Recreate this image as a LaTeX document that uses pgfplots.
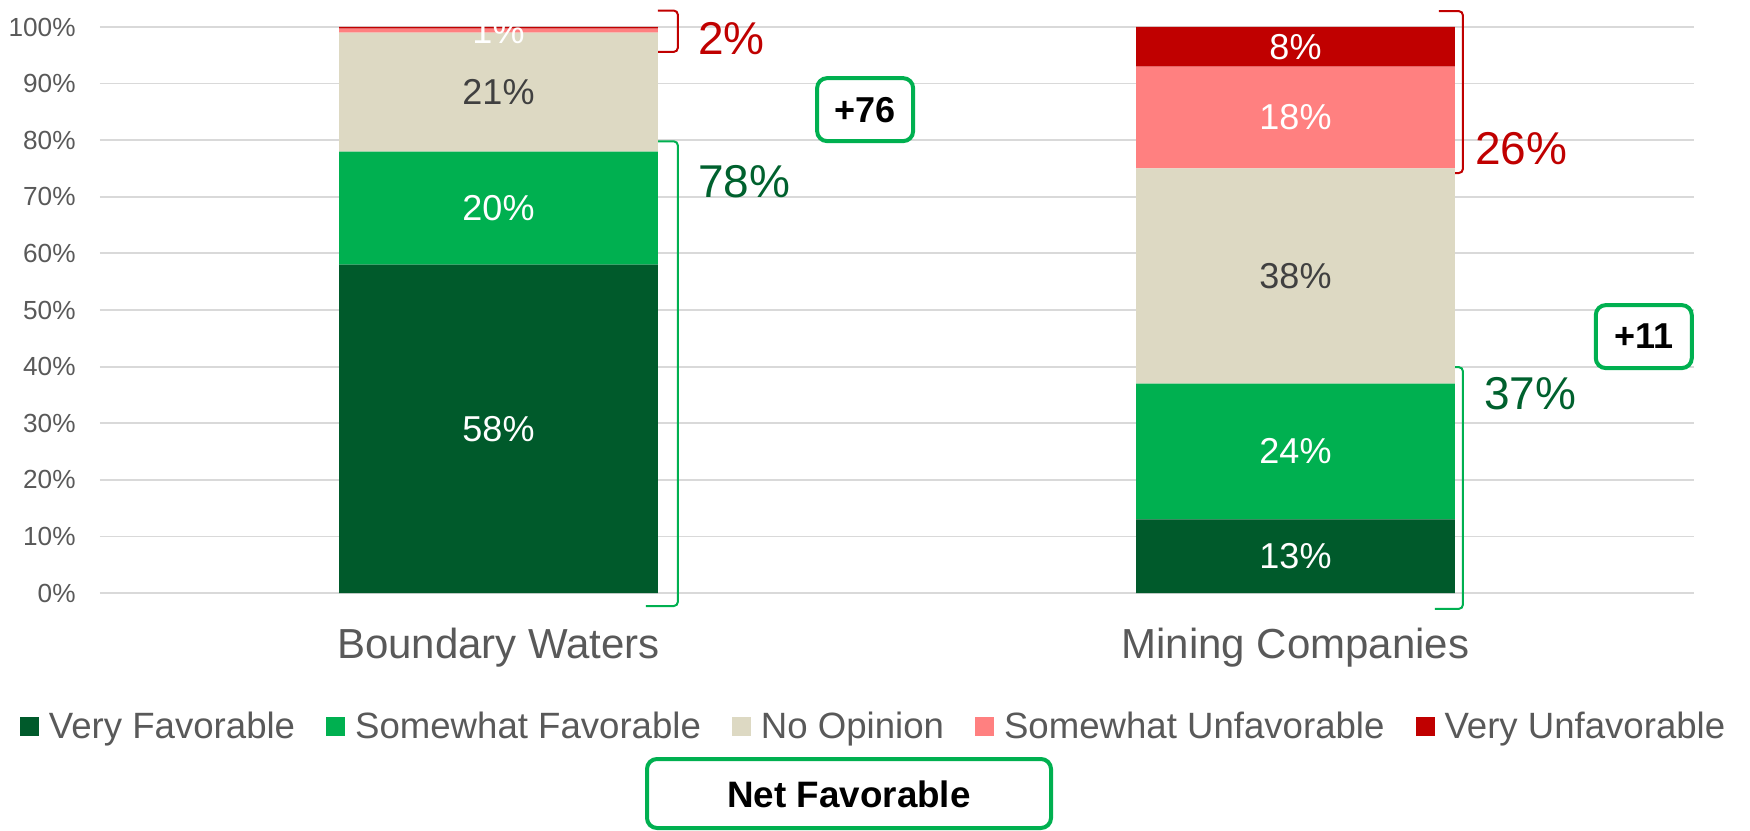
\documentclass[border=0pt]{standalone}
\usepackage{pgfplots}
\pgfplotsset{compat=1.18}
\usepackage{pgfplotstable}
\usepackage{fontspec}
\setmainfont{Liberation Sans}

\definecolor{vfc}{HTML}{005A2B}
\definecolor{sfc}{HTML}{00B050}
\definecolor{noc}{HTML}{DDD9C3}
\definecolor{suc}{HTML}{FF8080}
\definecolor{vuc}{HTML}{C00000}
\definecolor{tickc}{HTML}{595959}
\definecolor{darkc}{HTML}{404040}
\definecolor{gridc}{HTML}{D9D9D9}
\definecolor{bigg}{HTML}{00612E}

% shares per group; label columns hold the printed (rounded) values
\pgfplotstableread{
x vf vfl sf sfl no nol su sul vu vul
0 58 58\% 20 20\% 21 21\% 0.7 1\% 0.3 {}
1 13 13\% 24 24\% 38 38\% 18 18\% 7 8\%
}\survey

\pgfplotsset{
  seg/.style n args={3}{
    fill=#1, draw=none,
    nodes near coords, point meta=explicit symbolic,
    every node near coord/.append style={
      anchor=center, inner sep=0pt, text=#3,
      font=\fontsize{18}{20}\selectfont},
  },
}

\begin{document}
\begin{tikzpicture}
\useasboundingbox (-50pt,-118.5pt) rectangle (825pt,296.5pt);
\begin{axis}[
  at={(0pt,0pt)}, anchor=south west,
  width=797pt, height=283pt, scale only axis,
  ybar stacked, bar width=0.4,
  xmin=-0.5, xmax=1.5, ymin=0, ymax=100,
  enlargelimits=false, clip=false,
  axis line style={draw=none},
  tick style={draw=none},
  ytick={0,10,...,100},
  ymajorgrids, grid style={line width=0.9pt, gridc},
  /pgf/number format/assume math mode=true,
  yticklabel={\pgfmathprintnumber{\tick}\%},
  yticklabel style={anchor=east, inner sep=0pt, xshift=-12pt,
    text=tickc, font=\fontsize{13.1}{15}\selectfont},
  xtick={0,1}, xticklabels={Boundary Waters, Mining Companies},
  xticklabel style={anchor=base, inner sep=0pt, yshift=-32.5pt,
    text=tickc, font=\fontsize{21}{24}\selectfont},
  legend columns=5,
  legend cell align=left,
  legend image code/.code={\fill[#1] (0pt,-4.75pt) rectangle (9.5pt,4.75pt);},
  legend style={at={(-0.0502,-0.2359)}, anchor=west, draw=none, fill=none,
    inner sep=0pt, outer sep=0pt, text=tickc,
    font=\fontsize{18.3}{20}\selectfont,
    nodes={inner sep=0pt},
    /tikz/every odd column/.append style={column sep=5pt},
    /tikz/every even column/.append style={column sep=15.5pt}},
]
\addplot[seg={vfc}{vf}{white}] table[x=x, y=vf, meta=vfl] {\survey};
\addlegendentry{Very Favorable}
\addplot[seg={sfc}{sf}{white}] table[x=x, y=sf, meta=sfl] {\survey};
\addlegendentry{Somewhat Favorable}
\addplot[seg={noc}{no}{darkc}] table[x=x, y=no, meta=nol] {\survey};
\addlegendentry{No Opinion}
\addplot[seg={suc}{su}{white}] table[x=x, y=su, meta=sul] {\survey};
\addlegendentry{Somewhat Unfavorable}
\addplot[seg={vuc}{vu}{white}] table[x=x, y=vu, meta=vul] {\survey};
\addlegendentry{Very Unfavorable}

% brackets
\draw[vuc, line width=1pt, rounded corners=2pt]
  (axis cs:0.20,102.9) -| (axis cs:0.225,95.6) -- (axis cs:0.20,95.6);
\draw[sfc, line width=1pt, rounded corners=2pt]
  (axis cs:0.185,79.8) -| (axis cs:0.225,-2.3) -- (axis cs:0.185,-2.3);
\draw[vuc, line width=1pt, rounded corners=2pt]
  (axis cs:1.18,102.8) -| (axis cs:1.21,74.2) -- (axis cs:1.18,74.2);
\draw[sfc, line width=1pt, rounded corners=2pt]
  (axis cs:1.175,39.9) -| (axis cs:1.21,-2.8) -- (axis cs:1.175,-2.8);

\node[anchor=west, inner sep=0pt, text=vuc, font=\fontsize{23}{26}\selectfont]
  at (axis cs:0.25,98.0) {2\%};
\node[anchor=west, inner sep=0pt, text=bigg, font=\fontsize{23}{26}\selectfont]
  at (axis cs:0.25,72.7) {78\%};
\node[anchor=west, inner sep=0pt, text=vuc, font=\fontsize{23}{26}\selectfont]
  at (axis cs:1.225,78.5) {26\%};
\node[anchor=west, inner sep=0pt, text=bigg, font=\fontsize{23}{26}\selectfont]
  at (axis cs:1.236,35.2) {37\%};

% net favorable boxes
\node[draw=sfc, line width=2pt, rounded corners=5pt, fill=white,
  minimum width=48pt, minimum height=31.5pt, inner sep=0pt,
  font=\fontsize{18}{20}\selectfont\bfseries]
  at (axis cs:0.46,85.4) {+76};
\node[draw=sfc, line width=2pt, rounded corners=5pt, fill=white,
  minimum width=48pt, minimum height=31.5pt, inner sep=0pt,
  font=\fontsize{18}{20}\selectfont\bfseries]
  at (axis cs:1.437,45.3) {+11};
\end{axis}
\draw[sfc, line width=2pt, rounded corners=5pt, fill=white]
  (273.5pt,-83pt) rectangle (475.5pt,-117.5pt);
\node[font=\fontsize{18.4}{20}\selectfont\bfseries, inner sep=0pt]
  at (374.5pt,-100.5pt) {Net Favorable};
\end{tikzpicture}
\end{document}
